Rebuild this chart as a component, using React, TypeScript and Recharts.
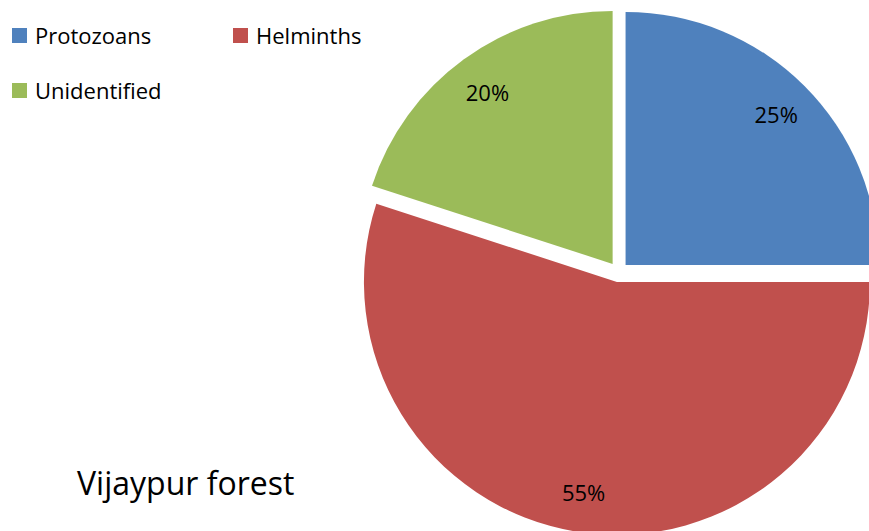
import { PieChart, Pie, Cell } from 'recharts';

const categories = ['Protozoans', 'Helminths', 'Unidentified'];
const shares = [25, 55, 20];
const colors = ['#4F81BD', '#C0504D', '#9BBB59'];
const chartTitle = 'Vijaypur forest';

const data = categories.map((name, i) => ({ name, value: shares[i] }));

const W = 869;
const H = 531;
const CX = 618.5;
const CY = 272;
const RADIUS = 253;
const EXPLODE = 10;
const LABEL_R = 213;
const FONT = '"Open Sans", Lato, sans-serif';
const RAD = Math.PI / 180;

// each slice's mid angle, clockwise from 12 o'clock, used to push it outward
const total = shares.reduce((s, v) => s + v, 0);
const midAngles = shares.map((v, i) => {
  const before = shares.slice(0, i).reduce((s, x) => s + x, 0);
  return ((before + v / 2) / total) * 360;
});

function sliceLabel(own: number) {
  return (props: any) => {
    if (props.index !== own) return null;
    const x = props.cx + LABEL_R * Math.cos(-props.midAngle * RAD);
    const y = props.cy + LABEL_R * Math.sin(-props.midAngle * RAD);
    return (
      <text
        x={x}
        y={y}
        fill="#000"
        textAnchor="middle"
        dominantBaseline="central"
        fontSize={22}
        fontFamily={FONT}
      >
        {`${Math.round(props.percent * 100)}%`}
      </text>
    );
  };
}

export default function App() {
  return (
    <div style={{ position: 'relative', width: W, height: H, background: '#fff' }}>
      <style>{'body{margin:0}'}</style>
      <PieChart width={W} height={H} margin={{ top: 0, right: 0, bottom: 0, left: 0 }}>
        {data.map((_, k) => (
          <Pie
            key={k}
            data={data}
            dataKey="value"
            nameKey="name"
            cx={CX + EXPLODE * Math.sin(midAngles[k] * RAD)}
            cy={CY - EXPLODE * Math.cos(midAngles[k] * RAD)}
            outerRadius={RADIUS}
            startAngle={90}
            endAngle={-270}
            stroke="none"
            label={sliceLabel(k)}
            labelLine={false}
            isAnimationActive={false}
          >
            {data.map((_, i) => (
              <Cell key={i} fill={i === k ? colors[i] : 'none'} />
            ))}
          </Pie>
        ))}
      </PieChart>

      <div
        style={{
          position: 'absolute',
          left: 12,
          top: 20,
          display: 'grid',
          gridTemplateColumns: '221px 221px',
          gridAutoRows: '55px',
          fontFamily: FONT,
          fontSize: 22,
          color: '#000',
        }}
      >
        {categories.map((c, i) => (
          <div key={c} style={{ display: 'flex', alignItems: 'center', height: 30, gap: 8 }}>
            <span style={{ width: 15, height: 15, background: colors[i], display: 'inline-block' }} />
            <span>{c}</span>
          </div>
        ))}
      </div>

      <div
        style={{
          position: 'absolute',
          left: 77,
          top: 467,
          fontFamily: FONT,
          fontSize: 32,
          lineHeight: 1,
          color: '#000',
        }}
      >
        {chartTitle}
      </div>
    </div>
  );
}
